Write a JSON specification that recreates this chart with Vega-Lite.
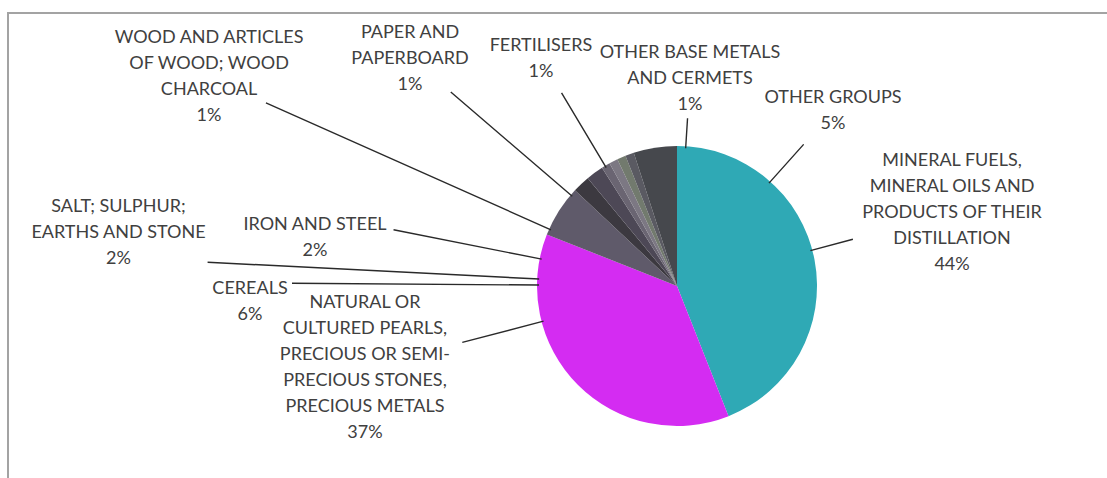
{
  "$schema": "https://vega.github.io/schema/vega-lite/v6.json",
  "width": 1107,
  "height": 478,
  "autosize": {"type": "fit", "contains": "padding"},
  "padding": {"left": 8, "top": 13, "right": -239, "bottom": -81},
  "background": "#ffffff",
  "view": {"stroke": "#a3a3a3", "strokeWidth": 2},
  "config": {
    "view": {"stroke": "#a3a3a3", "strokeWidth": 2},
    "text": {"font": "Lato", "fontSize": 18, "fill": "#404040", "lineHeight": 26, "lineBreak": "\n"}
  },
  "data": {
    "values": [
      {"rank": 1, "category": "MINERAL FUELS, MINERAL OILS AND PRODUCTS OF THEIR DISTILLATION", "share": 44, "label": "MINERAL FUELS,\nMINERAL OILS AND\nPRODUCTS OF THEIR\nDISTILLATION\n44%"},
      {"rank": 2, "category": "NATURAL OR CULTURED PEARLS, PRECIOUS OR SEMI-PRECIOUS STONES, PRECIOUS METALS", "share": 37, "label": "NATURAL OR\nCULTURED PEARLS,\nPRECIOUS OR SEMI-\nPRECIOUS STONES,\nPRECIOUS METALS\n37%"},
      {"rank": 3, "category": "CEREALS", "share": 6, "label": "CEREALS\n6%"},
      {"rank": 4, "category": "SALT; SULPHUR; EARTHS AND STONE", "share": 2, "label": "SALT; SULPHUR;\nEARTHS AND STONE\n2%"},
      {"rank": 5, "category": "IRON AND STEEL", "share": 2, "label": "IRON AND STEEL\n2%"},
      {"rank": 6, "category": "WOOD AND ARTICLES OF WOOD; WOOD CHARCOAL", "share": 1, "label": "WOOD AND ARTICLES\nOF WOOD; WOOD\nCHARCOAL\n1%"},
      {"rank": 7, "category": "PAPER AND PAPERBOARD", "share": 1, "label": "PAPER AND\nPAPERBOARD\n1%"},
      {"rank": 8, "category": "FERTILISERS", "share": 1, "label": "FERTILISERS\n1%"},
      {"rank": 9, "category": "OTHER BASE METALS AND CERMETS", "share": 1, "label": "OTHER BASE METALS\nAND CERMETS\n1%"},
      {"rank": 10, "category": "OTHER GROUPS", "share": 5, "label": "OTHER GROUPS\n5%"}
    ]
  },
  "layer": [
    {
      "mark": {"type": "arc", "outerRadius": 140, "clip": true},
      "encoding": {
        "theta": {"field": "share", "type": "quantitative", "stack": true},
        "order": {"field": "rank", "type": "quantitative"},
        "color": {
          "field": "category",
          "type": "nominal",
          "legend": null,
          "scale": {
            "domain": [
              "MINERAL FUELS, MINERAL OILS AND PRODUCTS OF THEIR DISTILLATION",
              "NATURAL OR CULTURED PEARLS, PRECIOUS OR SEMI-PRECIOUS STONES, PRECIOUS METALS",
              "CEREALS",
              "SALT; SULPHUR; EARTHS AND STONE",
              "IRON AND STEEL",
              "WOOD AND ARTICLES OF WOOD; WOOD CHARCOAL",
              "PAPER AND PAPERBOARD",
              "FERTILISERS",
              "OTHER BASE METALS AND CERMETS",
              "OTHER GROUPS"
            ],
            "range": ["#2fa9b5", "#d42cf2", "#5f5a6a", "#3c3940", "#4d4856", "#6a6572", "#7c7883", "#727a6e", "#5a5a62", "#46484d"]
          }
        }
      }
    },
    {
      "mark": {"type": "arc", "innerRadius": 138, "filled": false, "stroke": "#2a2a2a", "strokeWidth": 1.4, "clip": true},
      "encoding": {
        "theta": {"field": "rank", "type": "quantitative", "stack": null,
          "scale": {"type": "linear", "zero": false, "nice": false,
            "domain": [1, 2, 3, 4, 5, 6, 7, 8, 9, 10],
            "range": [1.3113, 4.4553, 4.7194, 4.7630, 4.9084, 5.1316, 5.4212, 5.7444, 0.0628, 0.7295]}},
        "theta2": {"field": "rank"},
        "radius": {"field": "rank", "type": "quantitative",
          "scale": {"type": "linear", "zero": false, "nice": false,
            "domain": [1, 2, 3, 4, 5, 6, 7, 8, 9, 10],
            "range": [182, 222, 385, 470, 289, 450, 298, 225, 168, 190]}}
      }
    },
    {
      "mark": {"type": "text", "align": "center", "baseline": "middle", "clip": true},
      "encoding": {
        "theta": {"field": "rank", "type": "quantitative", "stack": null,
          "scale": {"type": "linear", "zero": false, "nice": false,
            "domain": [1, 2, 3, 4, 5, 6, 7, 8, 9, 10],
            "range": [1.1443, 4.6579, 4.7054, 4.8529, 4.8795, 5.1997, 5.4709, 5.7676, 0.0557, 0.6927]}},
        "radius": {"field": "rank", "type": "quantitative",
          "scale": {"type": "linear", "zero": false, "nice": false,
            "domain": [1, 2, 3, 4, 5, 6, 7, 8, 9, 10],
            "range": [302.1, 312.5, 427.0, 564.1, 367.1, 529.6, 367.8, 275.9, 233.4, 244.3]}},
        "text": {"field": "label", "type": "nominal"}
      }
    }
  ],
  "resolve": {"scale": {"theta": "independent", "radius": "independent"}}
}
